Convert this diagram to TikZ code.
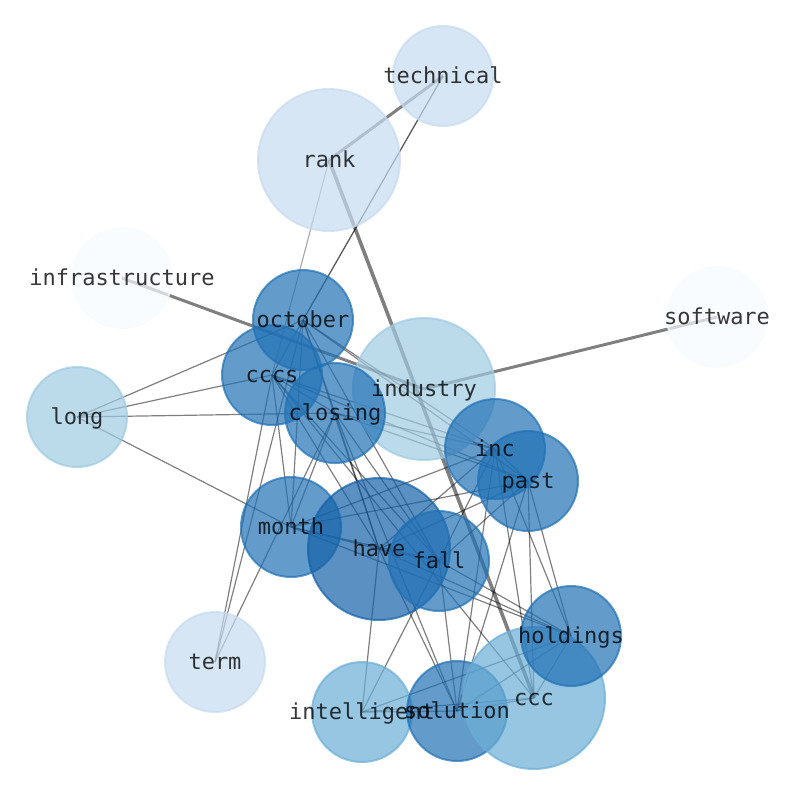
\documentclass[tikz,border=0pt]{standalone}
\usepackage{fontspec}
\setmonofont{DejaVu Sans Mono}
\definecolor{c0}{HTML}{F7FBFF}
\definecolor{c1}{HTML}{C6DBEF}
\definecolor{c2}{HTML}{9ECAE1}
\definecolor{c3}{HTML}{6BAED6}
\definecolor{c4}{HTML}{2171B5}
\definecolor{c5}{HTML}{1461A8}
\tikzset{
  edg/.style={draw=black, draw opacity=0.5, line width=1.2pt},
  edgd/.style={draw=black, draw opacity=0.65, line width=1.3pt},
  edgl/.style={draw=black, draw opacity=0.35, line width=1.1pt},
  thk/.style={draw=black, draw opacity=0.5, line width=3pt},
  thkk/.style={draw=black, draw opacity=0.5, line width=3.6pt},
  bub/.style={fill=#1, draw=#1, fill opacity=0.7, draw opacity=0.7, line width=2pt},
  lbl/.style={font=\ttfamily\fontsize{22}{26}\selectfont, text=black, text opacity=0.78,
    inner sep=0pt, text height=0.76em, text depth=0.24em, anchor=center, yshift=-5pt}
}
\begin{document}
\begin{tikzpicture}[x=1pt,y=-1pt]
\useasboundingbox (0,0) rectangle (794,790);
% node positions
\coordinate (technical) at (443,76);
\coordinate (rank) at (329,160);
\coordinate (infrastructure) at (122,278);
\coordinate (software) at (717,317);
\coordinate (october) at (303,320);
\coordinate (cccs) at (272,375);
\coordinate (industry) at (424,389);
\coordinate (long) at (77,417);
\coordinate (closing) at (335,413);
\coordinate (inc) at (495,449);
\coordinate (past) at (528,481);
\coordinate (month) at (291,527);
\coordinate (have) at (379,549);
\coordinate (fall) at (439,561);
\coordinate (holdings) at (571,636);
\coordinate (term) at (215,662);
\coordinate (intelligent) at (362,712);
\coordinate (solution) at (457,711);
\coordinate (ccc) at (534,698);
% edges
\draw[thk] (rank) -- (technical);
\draw[thkk] (rank) -- (ccc);
\draw[thk] (infrastructure) -- (industry);
\draw[thk] (software) -- (industry);
\draw[edgd] (technical) -- (october);
\draw[edgl] (rank) -- (cccs);
\foreach \a/\b in {long/october, long/cccs, long/closing, long/month,
  term/october, term/cccs, term/closing,
  october/cccs, october/closing, october/month, october/inc, october/past, october/have, october/fall,
  cccs/closing, cccs/month, cccs/inc, cccs/past, cccs/have, cccs/fall, cccs/ccc,
  closing/month, closing/inc, closing/past, closing/have, closing/fall, closing/solution,
  month/have, month/fall, month/holdings, month/inc, month/past,
  have/fall, have/inc, have/past, have/holdings, have/intelligent, have/solution,
  fall/inc, fall/past, fall/holdings, fall/solution, fall/intelligent,
  inc/past, inc/holdings, inc/solution, inc/ccc,
  past/holdings, past/solution, past/ccc,
  holdings/solution, holdings/intelligent, holdings/ccc,
  solution/intelligent, solution/ccc, intelligent/ccc}
  \draw[edg] (\a) -- (\b);
% bubbles
\fill[bub=c1] (technical) circle (50);
\fill[bub=c1] (rank) circle (71);
\fill[bub=c0] (infrastructure) circle (50);
\fill[bub=c0] (software) circle (50);
\fill[bub=c4] (october) circle (50);
\fill[bub=c4] (cccs) circle (50);
\fill[bub=c2] (industry) circle (71);
\fill[bub=c2] (long) circle (50);
\fill[bub=c4] (closing) circle (50);
\fill[bub=c4] (inc) circle (50);
\fill[bub=c4] (past) circle (50);
\fill[bub=c4] (month) circle (50);
\fill[bub=c5] (have) circle (71);
\fill[bub=c4] (fall) circle (50);
\fill[bub=c1] (term) circle (50);
\fill[bub=c3] (intelligent) circle (50);
\fill[bub=c4] (solution) circle (50);
\fill[bub=c3] (ccc) circle (71);
\fill[bub=c4] (holdings) circle (50);
% labels
\foreach \n in {technical, rank, infrastructure, software, october, cccs, industry, long,
  closing, inc, past, month, have, fall, holdings, term, intelligent, solution, ccc}
  \node[lbl] (\n-l) at (\n) {\n};
\end{tikzpicture}
\end{document}
